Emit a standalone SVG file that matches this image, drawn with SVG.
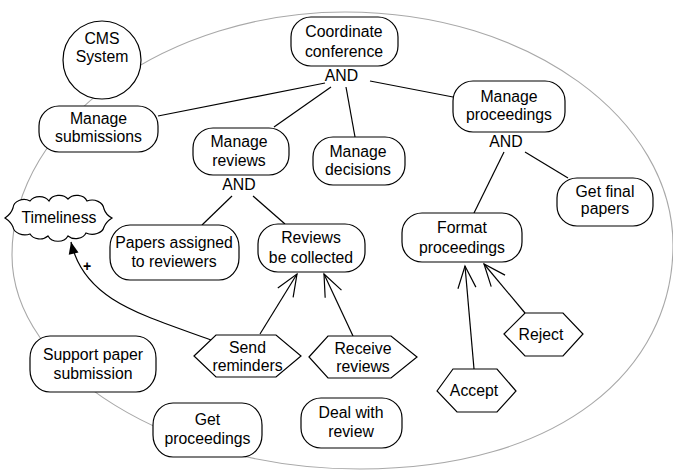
<svg xmlns="http://www.w3.org/2000/svg" width="673" height="470" viewBox="0 0 673 470">
  <style>
    .box { fill: #fff; stroke: #000; stroke-width: 1.2; }
    .bound { fill: none; stroke: #a8a8a8; stroke-width: 1.1; }
    .lnk { fill: none; stroke: #000; stroke-width: 1.2; }
    .dep { fill: none; stroke: #000; stroke-width: 1.2; marker-end: url(#openHead); }
    .contrib { fill: none; stroke: #000; stroke-width: 1.2; marker-end: url(#solidHead); }
    text { font-family: "Liberation Sans", Arial, Helvetica, sans-serif; font-size: 15.8px; fill: #000; text-anchor: middle; }
    .plus { font-weight: bold; font-size: 14px; }
  </style>
  <defs>
    <marker id="openHead" markerUnits="userSpaceOnUse" markerWidth="26" markerHeight="22" refX="22" refY="9" orient="auto" overflow="visible">
      <polyline points="0,0 22,9 0,18" fill="none" stroke="#000" stroke-width="1.2"/>
    </marker>
    <marker id="solidHead" markerUnits="userSpaceOnUse" markerWidth="14" markerHeight="12" refX="12" refY="5" orient="auto" overflow="visible">
      <path d="M0,0 L12,5 L0,10 Z" fill="#000"/>
    </marker>
  </defs>

  <!-- system boundary -->
  <path class="bound" d="M345,12 C530,12 673,120 673,245 C673,370 560,469 360,469 C170,469 12,370 12,255 C12,120 170,12 345,12 Z"/>

  <!-- connectors -->
  <g id="connectors">
    <line class="lnk" x1="325" y1="83" x2="158" y2="116"/>
    <line class="lnk" x1="331" y1="87" x2="274" y2="127"/>
    <line class="lnk" x1="346" y1="87" x2="355" y2="137"/>
    <line class="lnk" x1="370" y1="81" x2="453" y2="97"/>
    <line class="lnk" x1="232" y1="196" x2="202" y2="225"/>
    <line class="lnk" x1="253" y1="196" x2="285" y2="224"/>
    <line class="lnk" x1="504" y1="152" x2="474" y2="213"/>
    <line class="lnk" x1="525" y1="152" x2="568" y2="178"/>
    <line class="dep" x1="260" y1="334" x2="297" y2="274"/>
    <line class="dep" x1="353" y1="336" x2="324" y2="274"/>
    <line class="dep" x1="474" y1="369" x2="465" y2="266"/>
    <line class="dep" x1="525" y1="313" x2="484" y2="264"/>
    <path class="contrib" d="M211,340 C140,314 84,300 71,242"/>
    <text class="plus" x="87" y="271">+</text>
  </g>

  <g id="cms-system">
    <circle class="box" cx="102" cy="60" r="39"/>
    <text x="102" y="43.5">CMS</text>
    <text x="102" y="62">System</text>
  </g>

  <g id="coordinate-conference">
    <rect class="box" x="291" y="17" width="107" height="49" rx="20" ry="20"/>
    <text x="344" y="37">Coordinate</text>
    <text x="344" y="56.5">conference</text>
    <text x="341.5" y="81">AND</text>
  </g>

  <g id="manage-submissions">
    <rect class="box" x="39" y="106" width="119" height="46" rx="20" ry="20"/>
    <text x="98.5" y="124">Manage</text>
    <text x="98.5" y="142">submissions</text>
  </g>

  <g id="manage-reviews">
    <rect class="box" x="193" y="128" width="96" height="47" rx="20" ry="20"/>
    <text x="239" y="146.5">Manage</text>
    <text x="239" y="166">reviews</text>
    <text x="239" y="190">AND</text>
  </g>

  <g id="manage-decisions">
    <rect class="box" x="313" y="137" width="92" height="48" rx="20" ry="20"/>
    <text x="358" y="156.5">Manage</text>
    <text x="358" y="175">decisions</text>
  </g>

  <g id="manage-proceedings">
    <rect class="box" x="453" y="81" width="112" height="51" rx="20" ry="20"/>
    <text x="509" y="101.5">Manage</text>
    <text x="509" y="120">proceedings</text>
    <text x="506" y="146.5">AND</text>
  </g>

  <g id="get-final-papers">
    <rect class="box" x="557" y="178" width="96" height="48" rx="20" ry="20"/>
    <text x="605" y="196.5">Get final</text>
    <text x="605" y="214">papers</text>
  </g>

  <g id="format-proceedings">
    <rect class="box" x="402" y="213" width="120" height="49" rx="20" ry="20"/>
    <text x="462" y="233">Format</text>
    <text x="462" y="252.5">proceedings</text>
  </g>

  <g id="timeliness">
    <path class="box" d="M13,208 A11,9 0 0 1 30,201 A11,9 0 0 1 49,201 A11,9 0 0 1 68,199 A11,9 0 0 1 87,201 A12,10 0 0 1 104,209 Q106,215 112,218 Q106,222 104,227 A12,9 0 0 1 86,233 A11,9 0 0 1 68,236 A11,9 0 0 1 48,236 A11,9 0 0 1 30,234 A12,9 0 0 1 13,227 Q11,222 5,218 Q11,214 13,208 Z"/>
    <text x="59" y="223">Timeliness</text>
  </g>

  <g id="papers-assigned">
    <rect class="box" x="110" y="225" width="129" height="55" rx="20" ry="22"/>
    <text x="174" y="248">Papers assigned</text>
    <text x="174" y="267">to reviewers</text>
  </g>

  <g id="reviews-collected">
    <rect class="box" x="258" y="224" width="107" height="48" rx="20" ry="20"/>
    <text x="311" y="243">Reviews</text>
    <text x="311" y="262.5">be collected</text>
  </g>

  <g id="send-reminders">
    <polygon class="box" points="194,356 216,335 276,335 301,356 276,377 216,377"/>
    <text x="247.5" y="353">Send</text>
    <text x="247.5" y="370.5">reminders</text>
  </g>

  <g id="receive-reviews">
    <polygon class="box" points="309,357 328,336 391,336 417,357 391,378 328,378"/>
    <text x="363" y="353.5">Receive</text>
    <text x="363" y="372">reviews</text>
  </g>

  <g id="accept">
    <polygon class="box" points="437,391 453,369 497,369 516,391 497,412 457,412"/>
    <text x="474" y="396">Accept</text>
  </g>

  <g id="reject">
    <polygon class="box" points="504,334 525,313 563,313 583,334 563,356 525,356"/>
    <text x="541" y="340">Reject</text>
  </g>

  <g id="support-paper-submission">
    <rect class="box" x="30" y="336" width="126" height="56" rx="20" ry="22"/>
    <text x="93" y="359.5">Support paper</text>
    <text x="93" y="378.5">submission</text>
  </g>

  <g id="get-proceedings">
    <rect class="box" x="153" y="403" width="109" height="54" rx="20" ry="22"/>
    <text x="207.5" y="425">Get</text>
    <text x="207.5" y="443.5">proceedings</text>
  </g>

  <g id="deal-with-review">
    <rect class="box" x="301" y="398" width="101" height="50" rx="20" ry="20"/>
    <text x="351" y="417.5">Deal with</text>
    <text x="351" y="436.5">review</text>
  </g>
</svg>
